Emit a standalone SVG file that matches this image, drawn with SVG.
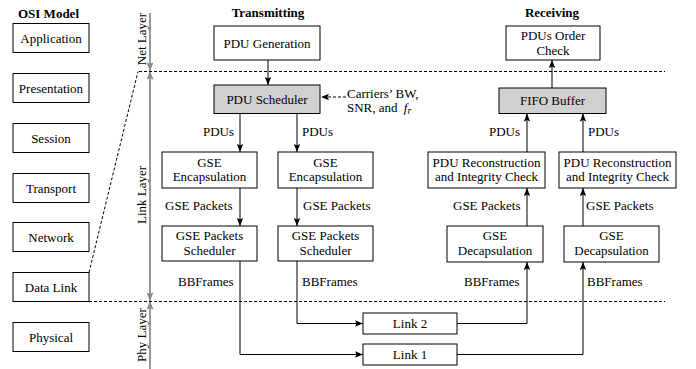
<svg xmlns="http://www.w3.org/2000/svg" width="696" height="369" viewBox="0 0 696 369" font-family="'Liberation Serif', 'DejaVu Serif', serif">
<style>
text{font-family:'Liberation Serif','DejaVu Serif',serif;font-size:13px;fill:#000}
.t{text-anchor:middle}
.b{font-weight:bold}
.box{fill:#fff;stroke:#000;stroke-width:1}
.gray{fill:#d0d0d0;stroke:#000;stroke-width:1}
.c{fill:none;stroke:#000;stroke-width:1;marker-end:url(#arr)}
.d{fill:none;stroke:#000;stroke-width:1;stroke-dasharray:3,2}
.g{fill:none;stroke:#999;stroke-width:2}
</style>
<defs>
<marker id="arr" viewBox="0 0 10 8" refX="10" refY="4" markerWidth="8" markerHeight="7" orient="auto" markerUnits="userSpaceOnUse"><path d="M0,0 L10,4 L0,8 L2,4 z" fill="#000"/></marker>
<marker id="garr" viewBox="0 0 10 8" refX="10" refY="4" markerWidth="9" markerHeight="7" orient="auto-start-reverse" markerUnits="userSpaceOnUse"><path d="M0,0 L10,4 L0,8 L2,4 z" fill="#888"/></marker>
</defs>

<!-- OSI model -->
<g id="osi">
<text class="t b" x="48.5" y="17.5">OSI Model</text>
<rect class="box" x="13" y="23.5" width="76" height="29"/><text class="t" x="51" y="42.5">Application</text>
<rect class="box" x="13" y="73.5" width="76" height="29"/><text class="t" x="51" y="92.5">Presentation</text>
<rect class="box" x="13" y="123.5" width="76" height="29"/><text class="t" x="51" y="142.5">Session</text>
<rect class="box" x="13" y="173.5" width="76" height="29"/><text class="t" x="51" y="192.5">Transport</text>
<rect class="box" x="13" y="222.5" width="76" height="29"/><text class="t" x="51" y="241.5">Network</text>
<rect class="box" x="13" y="272.5" width="76" height="29"/><text class="t" x="51" y="291.5">Data Link</text>
<rect class="box" x="13" y="322.5" width="76" height="29"/><text class="t" x="51" y="341.5">Physical</text>
</g>

<!-- layer axis -->
<g id="layers">
<line class="g" x1="150" y1="13" x2="150" y2="71" style="marker-end:url(#garr)"/>
<line class="g" x1="150" y1="71" x2="150" y2="301" style="marker-start:url(#garr);marker-end:url(#garr)"/>
<line class="g" x1="150" y1="301" x2="150" y2="369" style="marker-start:url(#garr)"/>
<text class="t" transform="translate(146,39) rotate(-90)">Net Layer</text>
<text class="t" transform="translate(146,195) rotate(-90)">Link Layer</text>
<text class="t" transform="translate(146,335) rotate(-90)">Phy Layer</text>
<path class="d" d="M139,71.5 H665"/>
<path class="d" d="M89,301.5 H665"/>
<path class="d" d="M89,272.5 L138,71.5"/>
</g>

<!-- Transmitting -->
<text class="t b" x="268" y="16.5">Transmitting</text>
<g id="pdu-gen"><rect class="box" x="214" y="26" width="106" height="34"/><text class="t" x="267" y="47.5">PDU Generation</text></g>
<g id="pdu-sched"><rect class="gray" x="214" y="85" width="106" height="28.5"/><text class="t" x="267" y="103.5">PDU Scheduler</text></g>
<g id="carriers"><text x="347" y="97.5">Carriers’ BW,</text><text x="347" y="111.5">SNR, and <tspan font-style="italic" dx="3">f</tspan><tspan font-style="italic" font-size="10" dy="2">r</tspan></text></g>
<g id="encap-l"><rect class="box" x="162" y="152" width="95" height="36"/><text class="t" x="209.5" y="166.5">GSE</text><text class="t" x="209.5" y="181">Encapsulation</text></g>
<g id="encap-r"><rect class="box" x="278" y="152" width="95" height="36"/><text class="t" x="325.5" y="166.5">GSE</text><text class="t" x="325.5" y="181">Encapsulation</text></g>
<g id="gsesched-l"><rect class="box" x="162" y="226" width="95" height="35"/><text class="t" x="209.5" y="240">GSE Packets</text><text class="t" x="209.5" y="254.5">Scheduler</text></g>
<g id="gsesched-r"><rect class="box" x="278" y="226" width="95" height="35"/><text class="t" x="325.5" y="240">GSE Packets</text><text class="t" x="325.5" y="254.5">Scheduler</text></g>

<!-- Links -->
<g id="link2"><rect class="box" x="363" y="313" width="94" height="21"/><text class="t" x="410" y="328">Link 2</text></g>
<g id="link1"><rect class="box" x="363" y="344" width="94" height="21"/><text class="t" x="410" y="359">Link 1</text></g>

<!-- Receiving -->
<text class="t b" x="552" y="16.5">Receiving</text>
<g id="order"><rect class="box" x="506" y="26" width="94" height="34"/><text class="t" x="553" y="40">PDUs Order</text><text class="t" x="553" y="54.5">Check</text></g>
<g id="fifo"><rect class="gray" x="499" y="88" width="107" height="25.5"/><text class="t" x="552.5" y="105">FIFO Buffer</text></g>
<g id="recon-l"><rect class="box" x="428" y="152" width="117" height="36"/><text class="t" x="486.5" y="166.5">PDU Reconstruction</text><text class="t" x="486.5" y="181">and Integrity Check</text></g>
<g id="recon-r"><rect class="box" x="559" y="152" width="117" height="36"/><text class="t" x="617.5" y="166.5">PDU Reconstruction</text><text class="t" x="617.5" y="181">and Integrity Check</text></g>
<g id="decap-l"><rect class="box" x="447" y="226" width="96" height="36"/><text class="t" x="495" y="240">GSE</text><text class="t" x="495" y="254.5">Decapsulation</text></g>
<g id="decap-r"><rect class="box" x="564" y="226" width="95" height="36"/><text class="t" x="611.5" y="240">GSE</text><text class="t" x="611.5" y="254.5">Decapsulation</text></g>

<!-- connectors -->
<g id="connectors">
<path class="c" d="M268,60 V85"/>
<path class="d" d="M346,97 H321" style="marker-end:url(#arr)"/>
<path class="c" d="M240,113.5 V152"/>
<path class="c" d="M297,113.5 V152"/>
<path class="c" d="M240,188 V226"/>
<path class="c" d="M297,188 V226"/>
<path class="c" d="M240,261 V354.5 H363"/>
<path class="c" d="M297,261 V323.5 H363"/>
<path class="c" d="M457,323.5 H527 V262"/>
<path class="c" d="M457,354.5 H583 V262"/>
<path class="c" d="M527,226 V188"/>
<path class="c" d="M583,226 V188"/>
<path class="c" d="M527,152 V113.5"/>
<path class="c" d="M583,152 V113.5"/>
<path class="c" d="M552,88 V60"/>
</g>

<!-- connector labels -->
<g id="labels">
<text x="203" y="136">PDUs</text>
<text x="302" y="136">PDUs</text>
<text x="165" y="209.5">GSE Packets</text>
<text x="303" y="209.5">GSE Packets</text>
<text x="178" y="285.5">BBFrames</text>
<text x="302" y="285.5">BBFrames</text>
<text x="489" y="136">PDUs</text>
<text x="588" y="136">PDUs</text>
<text x="453" y="209.5">GSE Packets</text>
<text x="586" y="209.5">GSE Packets</text>
<text x="464" y="285.5">BBFrames</text>
<text x="587" y="285.5">BBFrames</text>
</g>
</svg>
